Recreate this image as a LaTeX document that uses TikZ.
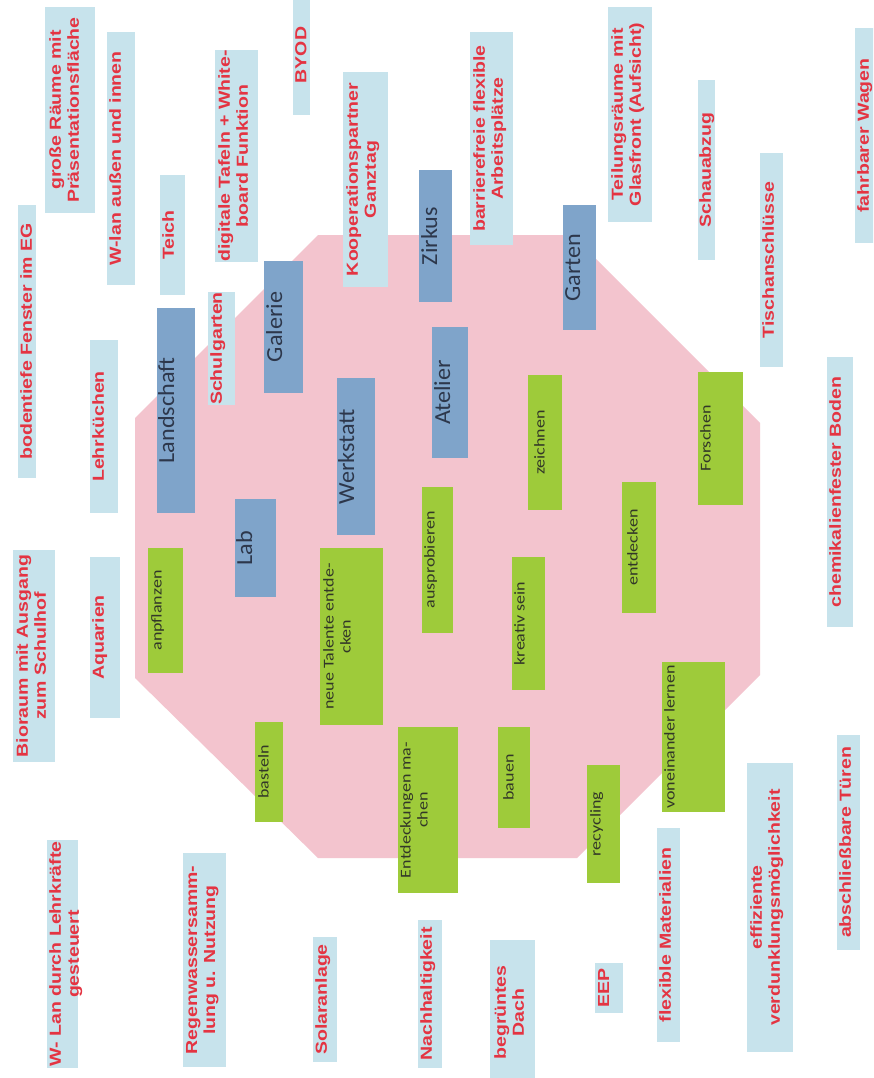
\documentclass[tikz,border=0pt]{standalone}
\usepackage{fontspec}
\newfontfamily\redf[FakeStretch=1.22]{Liberation Sans}
\newfontfamily\calf[FakeStretch=1.05]{Carlito}
\newfontfamily\calg[FakeStretch=1.2]{Carlito}
\definecolor{lb}{RGB}{199,227,236}
\definecolor{db}{RGB}{127,164,202}
\definecolor{gr}{RGB}{158,203,58}
\definecolor{pk}{RGB}{243,196,206}
\definecolor{rt}{RGB}{228,52,66}
\definecolor{bt}{RGB}{45,55,75}
\definecolor{gt}{RGB}{50,55,40}
\tikzset{
  boxbase/.style={draw=none, inner sep=0pt, outer sep=0pt},
  lbbox/.style={boxbase, fill=lb},
  dbbox/.style={boxbase, fill=db},
  gbox/.style={boxbase, fill=gr},
  rtxt/.style={rotate=90, anchor=north, inner sep=0pt, align=center, text=rt,
    font=\redf\bfseries\fontsize{16}{18}\selectfont},
  btxt/.style={rotate=90, anchor=north, inner sep=0pt, text=bt,
    font=\calf\fontsize{23}{26}\selectfont},
  gtxt/.style={rotate=90, anchor=north, inner sep=0pt, align=center, text=gt,
    font=\calg\fontsize{15}{17}\selectfont},
}
% #1 name, #2 box style, #3 text style, #4 x1, #5 y1, #6 x2, #7 y2, #8 text, #9 shift
\newcommand\bx[9]{%
  \node[#2, minimum width={(#6)-(#4)}, minimum height={(#7)-(#5)}] (#1)
    at ({((#4)+(#6))/2},{((#5)+(#7))/2}) {};
  \node[#3] (#1t) at ([xshift=#9pt]#1.west) {#8};}
\begin{document}
\begin{tikzpicture}[x=1pt,y=-1pt]
\useasboundingbox (0,0) rectangle (873,1078);
\clip (0,0) rectangle (873,1078);
\fill[white] (0,0) rectangle (873,1078);
% octagon
\fill[pk] (318,235) -- (572,235) -- (760,423) -- (760,675) -- (577,858)
  -- (318,858) -- (135,678) -- (135,418) -- cycle;
% light blue boxes with red text
\bx{bodentiefe}{lbbox}{rtxt}{18}{205}{36}{478}{bodentiefe Fenster im EG}{2}
\bx{grosse}{lbbox}{rtxt}{45}{7}{95}{213}{große Räume mit\\Präsentationsfläche}{4}
\bx{wlan}{lbbox}{rtxt}{107}{32}{135}{285}{W-lan außen und innen}{2}
\bx{teich}{lbbox}{rtxt}{160}{175}{185}{295}{Teich}{2}
\bx{digital}{lbbox}{rtxt}{215}{50}{258}{262}{digitale Tafeln + White-\\board Funktion}{3}
\bx{byod}{lbbox}{rtxt}{293}{-5}{310}{115}{BYOD}{2}
\bx{koop}{lbbox}{rtxt}{343}{72}{388}{287}{Kooperationspartner\\Ganztag}{3}
\bx{barriere}{lbbox}{rtxt}{470}{32}{513}{245}{barrierefreie flexible\\Arbeitsplätze}{3}
\bx{teilung}{lbbox}{rtxt}{608}{7}{652}{222}{Teilungsräume mit\\Glasfront (Aufsicht)}{3}
\bx{schau}{lbbox}{rtxt}{698}{80}{715}{260}{Schauabzug}{1}
\bx{tisch}{lbbox}{rtxt}{760}{153}{783}{367}{Tischanschlüsse}{2}
\bx{fahr}{lbbox}{rtxt}{855}{28}{885}{243}{fahrbarer Wagen}{2}
\bx{lehrk}{lbbox}{rtxt}{90}{340}{118}{513}{Lehrküchen}{2}
\bx{schulg}{lbbox}{rtxt}{208}{292}{235}{405}{Schulgarten}{2}
\bx{bioraum}{lbbox}{rtxt}{13}{550}{55}{762}{Bioraum mit Ausgang\\zum Schulhof}{3}
\bx{aquarien}{lbbox}{rtxt}{90}{557}{120}{718}{Aquarien}{2}
\bx{chemie}{lbbox}{rtxt}{827}{357}{853}{627}{chemikalienfester Boden}{2}
\bx{wlanb}{lbbox}{rtxt}{47}{840}{78}{1068}{W- Lan durch Lehrkräfte\\gesteuert}{2}
\bx{regen}{lbbox}{rtxt}{183}{853}{226}{1067}{Regenwassersamm-\\lung u. Nutzung}{3}
\bx{solar}{lbbox}{rtxt}{313}{937}{337}{1062}{Solaranlage}{2}
\bx{nachh}{lbbox}{rtxt}{418}{920}{442}{1068}{Nachhaltigkeit}{2}
\bx{dach}{lbbox}{rtxt}{490}{940}{535}{1085}{begrüntes\\Dach}{4}
\bx{eep}{lbbox}{rtxt}{595}{963}{623}{1013}{EEP}{3}
\bx{flex}{lbbox}{rtxt}{657}{828}{680}{1042}{flexible Materialien}{2}
\bx{effiz}{lbbox}{rtxt}{747}{763}{793}{1052}{effiziente\\verdunklungsmöglichkeit}{3}
\bx{abschl}{lbbox}{rtxt}{837}{735}{860}{950}{abschließbare Türen}{2}
% dark blue boxes
\bx{landschaft}{dbbox}{btxt}{157}{308}{195}{513}{Landschaft}{1}
\bx{galerie}{dbbox}{btxt}{264}{261}{303}{393}{Galerie}{2}
\bx{zirkus}{dbbox}{btxt}{419}{170}{452}{302}{Zirkus}{2}
\bx{garten}{dbbox}{btxt}{563}{205}{596}{330}{Garten}{2}
\bx{lab}{dbbox}{btxt}{235}{499}{276}{597}{Lab}{1}
\bx{werkstatt}{dbbox}{btxt}{337}{378}{375}{535}{Werkstatt}{1}
\bx{atelier}{dbbox}{btxt}{432}{327}{468}{458}{Atelier}{2}
% green boxes
\bx{anpflanzen}{gbox}{gtxt}{148}{548}{183}{673}{anpflanzen}{3}
\bx{talente}{gbox}{gtxt}{320}{548}{383}{725}{neue Talente entde-\\cken}{3}
\bx{ausprobieren}{gbox}{gtxt}{422}{487}{453}{633}{ausprobieren}{2}
\bx{zeichnen}{gbox}{gtxt}{528}{375}{562}{510}{zeichnen}{6}
\bx{kreativ}{gbox}{gtxt}{512}{557}{545}{690}{kreativ sein}{2}
\bx{entdecken}{gbox}{gtxt}{622}{482}{656}{613}{entdecken}{5}
\bx{forschen}{gbox}{gtxt}{698}{372}{743}{505}{Forschen}{2}
\bx{voneinander}{gbox}{gtxt}{662}{662}{725}{812}{voneinander lernen}{2}
\bx{basteln}{gbox}{gtxt}{255}{722}{283}{822}{basteln}{3}
\bx{entdeckungen}{gbox}{gtxt}{398}{727}{458}{893}{Entdeckungen ma-\\chen}{2}
\bx{bauen}{gbox}{gtxt}{498}{727}{530}{828}{bauen}{5}
\bx{recycling}{gbox}{gtxt}{587}{765}{620}{883}{recycling}{3}
\end{tikzpicture}
\end{document}
